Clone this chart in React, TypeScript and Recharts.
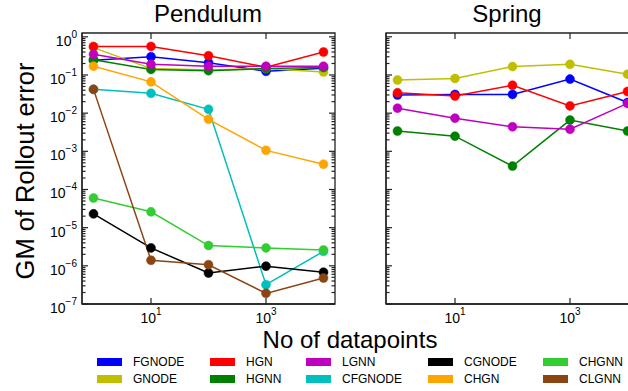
import React from "react";
import { LineChart, Line, XAxis, YAxis, ReferenceArea } from "recharts";

// dataset sizes (x axis)
const sizes = [1, 10, 100, 1000, 10000];

// Pendulum – GM of rollout error
const pendFGNODE = [0.245, 0.3, 0.21, 0.125, 0.15];
const pendGNODE = [0.52, 0.147, 0.136, 0.147, 0.12];
const pendHGN = [0.56, 0.56, 0.32, 0.16, 0.4];
const pendHGNN = [0.25, 0.14, 0.13, 0.147, 0.157];
const pendLGNN = [0.35, 0.19, 0.17, 0.17, 0.17];
const pendCFGNODE = [0.042, 0.033, 0.0126, 3.2e-7, 2.4e-6];
const pendCGNODE = [2.3e-5, 2.95e-6, 6.5e-7, 9.8e-7, 6.8e-7];
const pendCHGN = [0.17, 0.066, 0.0069, 0.00106, 4.6e-4];
const pendCHGNN = [6.0e-5, 2.6e-5, 3.4e-6, 2.95e-6, 2.6e-6];
const pendCLGNN = [0.042, 1.4e-6, 1.07e-6, 1.9e-7, 4.8e-7];

// Spring – GM of rollout error
const springFGNODE = [0.03, 0.031, 0.031, 0.078, 0.019];
const springGNODE = [0.074, 0.081, 0.166, 0.19, 0.105];
const springHGN = [0.034, 0.028, 0.054, 0.0155, 0.037];
const springHGNN = [0.0034, 0.0025, 4.1e-4, 0.0066, 0.0034];
const springLGNN = [0.0135, 0.0074, 0.0044, 0.0038, 0.018];

const models = [
  { key: "FGNODE", color: "#0000ff" },
  { key: "GNODE", color: "#bfbf00" },
  { key: "HGN", color: "#ff0000" },
  { key: "HGNN", color: "#008000" },
  { key: "LGNN", color: "#bf00bf" },
  { key: "CFGNODE", color: "#00bfbf" },
  { key: "CGNODE", color: "#000000" },
  { key: "CHGN", color: "#ffa500" },
  { key: "CHGNN", color: "#32cd32" },
  { key: "CLGNN", color: "#8b4513" },
];

const pendulumRows = sizes.map((n, i) => ({
  n,
  FGNODE: pendFGNODE[i],
  GNODE: pendGNODE[i],
  HGN: pendHGN[i],
  HGNN: pendHGNN[i],
  LGNN: pendLGNN[i],
  CFGNODE: pendCFGNODE[i],
  CGNODE: pendCGNODE[i],
  CHGN: pendCHGN[i],
  CHGNN: pendCHGNN[i],
  CLGNN: pendCLGNN[i],
}));

const springRows = sizes.map((n, i) => ({
  n,
  FGNODE: springFGNODE[i],
  GNODE: springGNODE[i],
  HGN: springHGN[i],
  HGNN: springHGNN[i],
  LGNN: springLGNN[i],
}));

const xTicks = [10, 1000];
const yTicks: number[] = [1e-7];
for (let e = -7; e < 0; e++) {
  for (let k = 2; k <= 10; k++) yTicks.push(Number((k * Math.pow(10, e)).toPrecision(3)));
}

const X_DOMAIN = [Math.pow(10, -0.2), Math.pow(10, 4.2)];
const Y_DOMAIN = [1e-7, Math.pow(10, 0.1)];

const PLOT_W = 253;
const PLOT_H = 271;
const FONT = "'Liberation Sans', Arial, sans-serif";
const AXIS = "#222";

const isMajor = (v: number) => {
  const l = Math.log10(v);
  return Math.abs(l - Math.round(l)) < 1e-6;
};

const expText = (v: number) => {
  const e = Math.round(Math.log10(v));
  return e < 0 ? "\u2212" + Math.abs(e) : String(e);
};

function YTick(props: any) {
  const { x, y, payload, showLabel } = props;
  const v = payload.value;
  const major = isMajor(v);
  const len = major ? 6 : 3.5;
  return (
    <g>
      <line x1={x} x2={x + len} y1={y} y2={y} stroke={AXIS} strokeWidth={1.2} />
      <line x1={x + PLOT_W - len} x2={x + PLOT_W} y1={y} y2={y} stroke={AXIS} strokeWidth={1.2} />
      {showLabel && major && (
        <text x={x - 5} y={y + 9} textAnchor="end" fontSize={14} fill="#000" fontFamily={FONT}>
          <tspan>10</tspan>
          <tspan dy={-8} fontSize={10}>{expText(v)}</tspan>
        </text>
      )}
    </g>
  );
}

function XTick(props: any) {
  const { x, y, payload } = props;
  return (
    <g>
      <line x1={x} x2={x} y1={y} y2={y - 6} stroke={AXIS} strokeWidth={1.2} />
      <line x1={x} x2={x} y1={y - PLOT_H} y2={y - PLOT_H + 6} stroke={AXIS} strokeWidth={1.2} />
      <text x={x} y={y + 19} textAnchor="middle" fontSize={14} fill="#000" fontFamily={FONT}>
        <tspan>10</tspan>
        <tspan dy={-8} fontSize={10}>{expText(payload.value)}</tspan>
      </text>
    </g>
  );
}

function Panel({ rows, keys, showLabels, marginLeft }: any) {
  return (
    <LineChart
      width={marginLeft + PLOT_W + 5}
      height={391}
      data={rows}
      margin={{ top: 33, left: marginLeft - 1, right: 5, bottom: 391 - 33 - PLOT_H - 1 }}
    >
      <XAxis
        dataKey="n"
        type="number"
        scale="log"
        domain={X_DOMAIN}
        allowDataOverflow
        ticks={xTicks}
        interval={0}
        height={1}
        tickSize={0}
        tickMargin={0}
        tickLine={false}
        axisLine={{ stroke: AXIS, strokeWidth: 1.3 }}
        tick={<XTick />}
      />
      <YAxis
        type="number"
        scale="log"
        domain={Y_DOMAIN}
        allowDataOverflow
        ticks={yTicks}
        interval={0}
        width={1}
        tickSize={0}
        tickMargin={0}
        tickLine={false}
        axisLine={{ stroke: AXIS, strokeWidth: 1.3 }}
        tick={<YTick showLabel={showLabels} />}
      />
      <ReferenceArea
        x1={X_DOMAIN[0]}
        x2={X_DOMAIN[1]}
        y1={Y_DOMAIN[0]}
        y2={Y_DOMAIN[1]}
        ifOverflow="visible"
        fill="none"
        stroke={AXIS}
        strokeWidth={1.3}
      />
      {models
        .filter((m) => keys.includes(m.key))
        .map((m) => (
          <Line
            key={m.key}
            dataKey={m.key}
            stroke={m.color}
            strokeWidth={1.5}
            dot={{ r: 4.5, fill: m.color, stroke: m.color, strokeWidth: 0.5 }}
            activeDot={false}
            isAnimationActive={false}
          />
        ))}
    </LineChart>
  );
}

const legendCols = [97, 210, 306, 428, 543];
const legendRows = [362, 379];

export default function App() {
  return (
    <div
      style={{
        position: "absolute",
        left: 0,
        top: 0,
        width: 628,
        height: 391,
        overflow: "hidden",
        background: "#fff",
        fontFamily: FONT,
      }}
    >
      <div style={{ position: "absolute", left: 0, top: 0 }}>
        <Panel rows={pendulumRows} keys={models.map((m) => m.key)} showLabels marginLeft={82} />
      </div>
      <div style={{ position: "absolute", left: 376, top: 0 }}>
        <Panel
          rows={springRows}
          keys={["FGNODE", "GNODE", "HGN", "HGNN", "LGNN"]}
          showLabels={false}
          marginLeft={10}
        />
      </div>
      <svg width={628} height={391} style={{ position: "absolute", left: 0, top: 0, pointerEvents: "none" }}>
        <text x={208} y={22} textAnchor="middle" fontSize={24} fontFamily={FONT}>
          Pendulum
        </text>
        <text x={507} y={22} textAnchor="middle" fontSize={24} fontFamily={FONT}>
          Spring
        </text>
        <text x={350} y={348} textAnchor="middle" fontSize={24} fontFamily={FONT}>
          No of datapoints
        </text>
        <text
          transform="rotate(-90)"
          x={-171}
          y={34}
          textAnchor="middle"
          fontSize={25.5}
          fontFamily={FONT}
        >
          GM of Rollout error
        </text>
      </svg>
      {models.map((m, i) => (
        <div
          key={m.key}
          style={{
            position: "absolute",
            left: legendCols[Math.floor(i / 2)],
            top: legendRows[i % 2] - 8,
            height: 16,
            display: "flex",
            alignItems: "center",
            fontSize: 12,
            whiteSpace: "nowrap",
          }}
        >
          <span style={{ display: "inline-block", width: 25, height: 8, background: m.color, marginRight: 11 }} />
          <span>{m.key}</span>
        </div>
      ))}
    </div>
  );
}
